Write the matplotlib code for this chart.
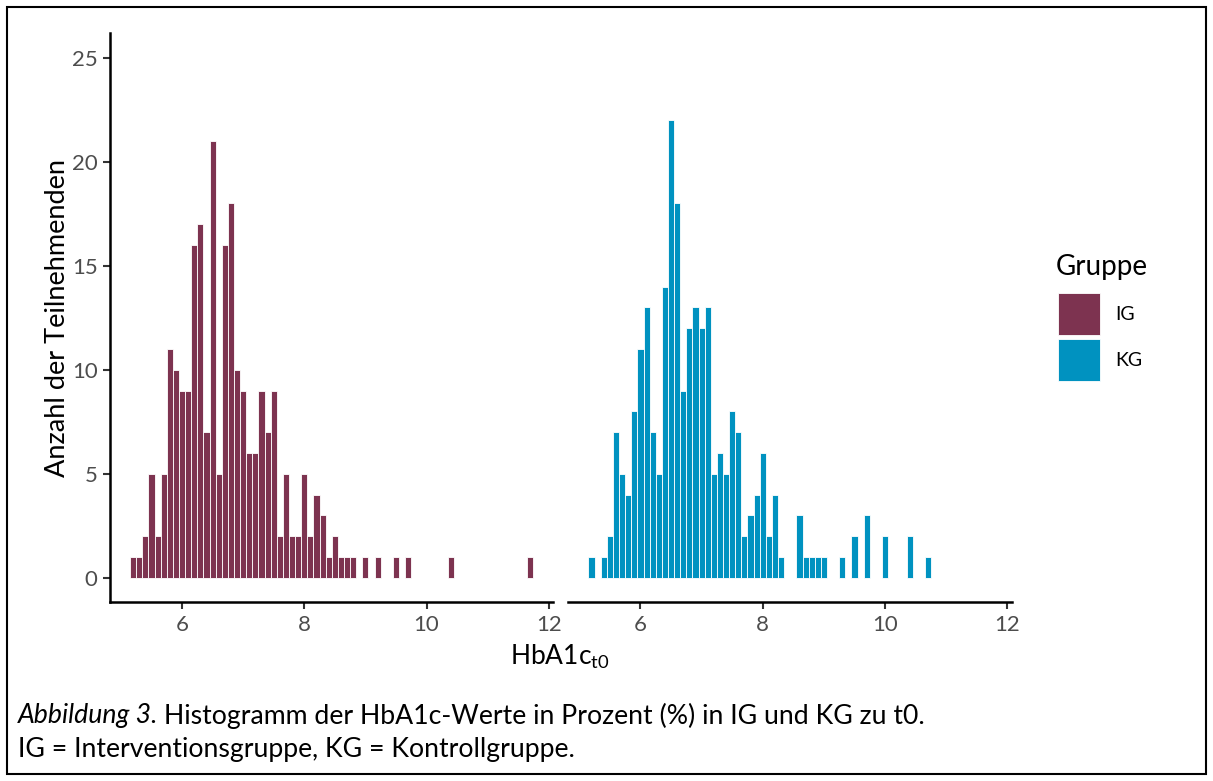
import numpy as np
import matplotlib
matplotlib.use('Agg')
import matplotlib.pyplot as plt
from matplotlib.patches import Rectangle

plt.rcParams['font.family'] = ['Lato', 'DejaVu Sans']
plt.rcParams['mathtext.fontset'] = 'custom'
plt.rcParams['mathtext.rm'] = 'Lato'

# bin centres (width 0.1) and counts
ig_x = [5.2, 5.3, 5.4, 5.5, 5.6, 5.7, 5.8, 5.9, 6.0, 6.1, 6.2, 6.3, 6.4, 6.5,
        6.6, 6.7, 6.8, 6.9, 7.0, 7.1, 7.2, 7.3, 7.4, 7.5, 7.6, 7.7, 7.8, 7.9,
        8.0, 8.1, 8.2, 8.3, 8.4, 8.5, 8.6, 8.7, 8.8, 9.0, 9.2, 9.5, 9.7, 10.4, 11.7]
ig_n = [1, 1, 2, 5, 2, 5, 11, 10, 9, 9, 16, 17, 7, 21,
        5, 16, 18, 10, 9, 6, 6, 9, 7, 9, 2, 5, 2, 2,
        5, 2, 4, 3, 1, 2, 1, 1, 1, 1, 1, 1, 1, 1, 1]

kg_x = [5.2, 5.4, 5.5, 5.6, 5.7, 5.8, 5.9, 6.0, 6.1, 6.2, 6.3, 6.4, 6.5, 6.6,
        6.7, 6.8, 6.9, 7.0, 7.1, 7.2, 7.3, 7.4, 7.5, 7.6, 7.7, 7.8, 7.9, 8.0,
        8.1, 8.2, 8.3, 8.6, 8.7, 8.8, 8.9, 9.0, 9.3, 9.5, 9.7, 10.0, 10.4, 10.7]
kg_n = [1, 1, 2, 7, 5, 4, 8, 11, 13, 7, 5, 14, 22, 18,
        9, 12, 13, 12, 13, 5, 6, 5, 8, 7, 2, 3, 4, 6,
        2, 4, 1, 3, 1, 1, 1, 1, 1, 2, 3, 2, 2, 1]

groups = ['IG', 'KG']
colors = ['#7D3350', '#0092C0']

W, H = 1213, 781
fig = plt.figure(figsize=(W / 100, H / 100), dpi=100)

def px_axes(x0, x1, y0, y1):
    return fig.add_axes([x0 / W, 1 - y1 / H, (x1 - x0) / W, (y1 - y0) / H])

ax1 = px_axes(110, 553, 33.3, 602.3)
ax2 = px_axes(568.3, 1011.7, 33.3, 602.3)

for ax, xs, ns, col in [(ax1, ig_x, ig_n, colors[0]), (ax2, kg_x, kg_n, colors[1])]:
    ax.bar(xs, ns, width=0.1, color=col, edgecolor='white', linewidth=0.6)
    ax.set_xlim(4.82, 12.07)
    ax.set_ylim(-1.18, 26.18)
    ax.set_xticks([6, 8, 10, 12])
    for s in ['top', 'right']:
        ax.spines[s].set_visible(False)
    ax.spines['bottom'].set_linewidth(1.8)
    ax.spines['left'].set_linewidth(1.8)
    ax.tick_params(axis='both', labelsize=16, labelcolor='#4D4D4D', color='#333333',
                   length=5, width=1.5, pad=4)

ax1.set_yticks([0, 5, 10, 15, 20, 25])
ax2.spines['left'].set_visible(False)
ax2.tick_params(axis='y', left=False, labelleft=False)

ax1.set_ylabel('Anzahl der Teilnehmenden', fontsize=19.5)
ax1.yaxis.set_label_coords((70 - 110) / (553 - 110), 0.5)
fig.text(560 / W, 1 - 657 / H, r'HbA1c$_{\mathrm{t0}}$', fontsize=19,
         ha='center', va='center')

# legend
fig.text(1056 / W, 1 - 267 / H, 'Gruppe', fontsize=20, ha='left', va='center')
for i, (g, c) in enumerate(zip(groups, colors)):
    y0 = 293 + i * 46
    fig.add_artist(Rectangle((1058 / W, 1 - (y0 + 42) / H), 42 / W, 42 / H,
                             facecolor=c, edgecolor='white', linewidth=0.6,
                             transform=fig.transFigure))
    fig.text(1115 / W, 1 - (y0 + 22) / H, g, fontsize=14, ha='left', va='center')

# caption
t = fig.text(18 / W, 1 - 716 / H, 'Abbildung 3.', fontsize=19.2, style='italic',
             ha='left', va='center')
fig.canvas.draw()
bb = t.get_window_extent()
fig.text(bb.x1 / W + 6 / W, 1 - 716 / H,
         'Histogramm der HbA1c-Werte in Prozent (%) in IG und KG zu t0.',
         fontsize=19.2, ha='left', va='center')
fig.text(18 / W, 1 - 749 / H, 'IG = Interventionsgruppe, KG = Kontrollgruppe.',
         fontsize=19.2, ha='left', va='center')

# outer frame
fig.add_artist(Rectangle((7 / W, 1 - 774 / H), 1199 / W, 767 / H, fill=False,
                         edgecolor='black', linewidth=1.5, transform=fig.transFigure))

fig.savefig('out.png', dpi=100)
